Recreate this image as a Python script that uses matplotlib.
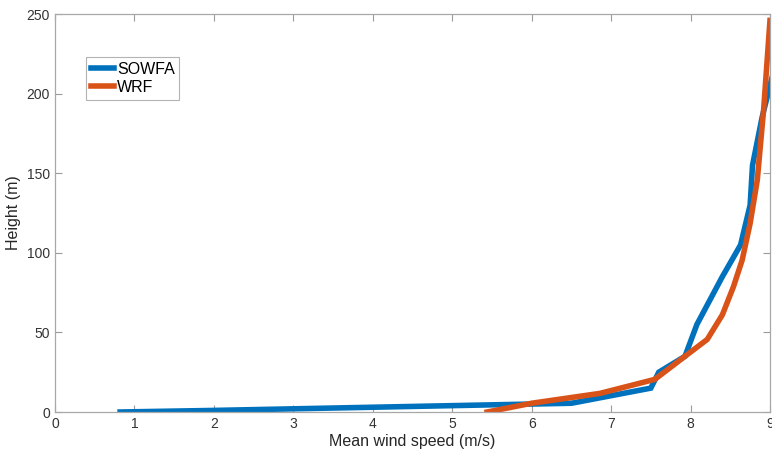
import numpy as np
import matplotlib.pyplot as plt

plt.rcParams['font.family'] = ['Liberation Sans', 'DejaVu Sans']

# SOWFA profile (speed m/s, height m)
sowfa_u = [0.82, 2.0, 3.0, 4.0, 5.0, 6.0, 6.5, 7.5, 7.6, 7.93, 8.08, 8.4, 8.63, 8.75, 8.78, 8.9, 9.05, 9.15]
sowfa_z = [0, 1, 2, 3, 4, 5, 5.5, 15, 25, 35, 55, 85, 105, 130, 155, 185, 215, 250]

# WRF profile
wrf_u = [5.44, 6.0, 6.86, 7.55, 7.93, 8.21, 8.4, 8.54, 8.65, 8.75, 8.84, 8.92, 9.0]
wrf_z = [0, 5.5, 11.7, 20.5, 35, 45.6, 61, 78.7, 95.5, 118.5, 145.7, 190, 246]

xticks = list(range(0, 10))
yticks = [0, 50, 100, 150, 200, 250]

fig = plt.figure(figsize=(7.72, 4.54), dpi=100)
ax = fig.add_axes([0.0712, 0.0925, 0.9262, 0.8765])

ax.plot(sowfa_u, sowfa_z, color='#0072BD', lw=4, label='SOWFA', solid_joinstyle='miter')
ax.plot(wrf_u, wrf_z, color='#D95319', lw=4, label='WRF', solid_joinstyle='miter')

ax.set_xlim(0, 9)
ax.set_ylim(0, 250)
ax.set_xticks(xticks)
ax.set_yticks(yticks)
ax.tick_params(direction='in', top=True, right=True, length=5, width=0.8,
               colors='#9a9a9a', labelcolor='#333333', labelsize=10)
for s in ax.spines.values():
    s.set_color('#a8a8a8')
    s.set_linewidth(0.9)

ax.set_xlabel('Mean wind speed (m/s)', fontsize=11.5, color='#262626', labelpad=2)
ax.set_ylabel('Height (m)', fontsize=11.5, color='#262626', labelpad=4)

leg = ax.legend(loc='upper left', bbox_to_anchor=(0.043, 0.892), fontsize=11.5,
                frameon=True, fancybox=False, handlelength=1.5, handletextpad=0.15,
                borderpad=0.3, labelspacing=0.2, borderaxespad=0)
leg.get_frame().set_edgecolor('#a0a0a0')
leg.get_frame().set_linewidth(0.8)

fig.savefig('out.png', dpi=100)
